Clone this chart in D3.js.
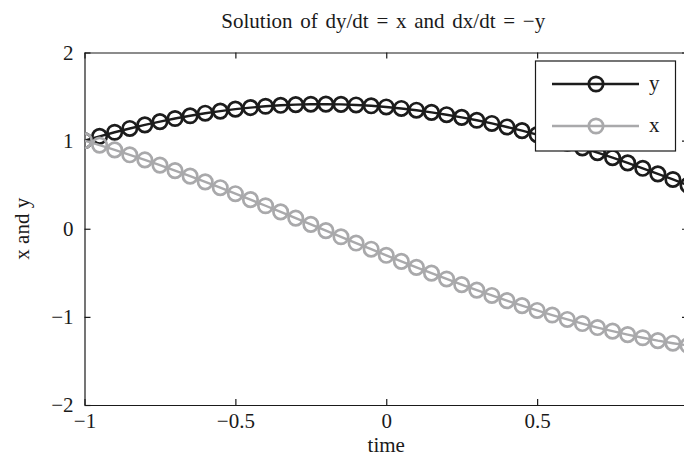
<!DOCTYPE html>
<html>
<head>
<meta charset="utf-8">
<script src="https://cdn.jsdelivr.net/npm/d3@7/dist/d3.min.js"></script>
<style>
html,body{margin:0;padding:0;background:#fff;}
svg text{font-family:"Liberation Serif","Times New Roman",serif;fill:#1a1a1a;}
</style>
</head>
<body>
<svg id="chart" width="684" height="461"></svg>
<script>
// ---- data ----
const time = [-1.00,-0.95,-0.90,-0.85,-0.80,-0.75,-0.70,-0.65,-0.60,-0.55,-0.50,-0.45,-0.40,-0.35,-0.30,-0.25,-0.20,-0.15,-0.10,-0.05,
  0.00,0.05,0.10,0.15,0.20,0.25,0.30,0.35,0.40,0.45,0.50,0.55,0.60,0.65,0.70,0.75,0.80,0.85,0.90,0.95,1.00];
const ySeries = [1.000,1.049,1.095,1.138,1.179,1.216,1.251,1.282,1.311,1.335,1.357,1.375,1.390,1.401,1.409,1.413,1.414,1.411,1.405,1.395,
  1.382,1.365,1.345,1.321,1.294,1.264,1.231,1.195,1.155,1.113,1.068,1.021,0.970,0.918,0.863,0.806,0.747,0.686,0.623,0.559,0.493];
const xSeries = [1.000,0.949,0.895,0.839,0.781,0.722,0.660,0.597,0.532,0.466,0.398,0.330,0.261,0.191,0.121,0.050,-0.021,-0.091,-0.162,-0.232,
  -0.301,-0.370,-0.438,-0.504,-0.570,-0.634,-0.696,-0.757,-0.816,-0.872,-0.927,-0.979,-1.029,-1.076,-1.121,-1.162,-1.201,-1.237,-1.270,-1.299,-1.325];
const xTicks = [-1, -0.5, 0, 0.5];
const yTicks = [-2, -1, 0, 1, 2];
const seriesNames = ["y", "x"];
const titleText = "Solution of dy/dt = x and dx/dt = \u2212y";
const xLabel = "time";
const yLabel = "x and y";

// ---- layout ----
const svg = d3.select("#chart");
const L = 84.5, R = 688, T = 52.5, B = 405;
const FS = 21;
const xs = d3.scaleLinear().domain([-1, 1]).range([L, R]);
const ys = d3.scaleLinear().domain([-2, 2]).range([B, T]);
const colors = {y: "#1c1c1c", x: "#a9a9ab"};
const fmt = v => d3.format("")(v).replace("-", "\u2212");

svg.append("defs").append("clipPath").attr("id", "clip")
  .append("rect").attr("x", L).attr("y", T).attr("width", R - L).attr("height", B - T);

const axisStyle = g => {
  g.selectAll("path.domain").attr("stroke", "#1a1a1a").attr("stroke-width", 1.2);
  g.selectAll(".tick line").attr("stroke", "#1a1a1a").attr("stroke-width", 1.2);
  g.selectAll(".tick text").attr("font-size", FS).attr("fill", "#1a1a1a")
    .style("font-family", '"Liberation Serif","Times New Roman",serif');
};

// bottom
svg.append("g").attr("transform", `translate(0,${B})`)
  .call(d3.axisBottom(xs).tickValues(xTicks).tickSizeInner(-6).tickSizeOuter(0).tickPadding(8).tickFormat(fmt))
  .call(axisStyle);
// top
svg.append("g").attr("transform", `translate(0,${T})`)
  .call(d3.axisTop(xs).tickValues(xTicks).tickSizeInner(-6).tickSizeOuter(0).tickFormat(""))
  .call(axisStyle);
// left
svg.append("g").attr("transform", `translate(${L},0)`)
  .call(d3.axisLeft(ys).tickValues(yTicks).tickSizeInner(-6).tickSizeOuter(0).tickPadding(11).tickFormat(fmt))
  .call(axisStyle);
// right
svg.append("g").attr("transform", `translate(${R},0)`)
  .call(d3.axisRight(ys).tickValues(yTicks).tickSizeInner(-6).tickSizeOuter(0).tickFormat(""))
  .call(axisStyle);

// series
const plot = svg.append("g").attr("clip-path", "url(#clip)");
const seriesData = {y: ySeries, x: xSeries};
seriesNames.forEach(name => {
  const pts = time.map((t, i) => [t, seriesData[name][i]]);
  plot.append("path").datum(pts)
    .attr("fill", "none").attr("stroke", colors[name]).attr("stroke-width", 2.4)
    .attr("d", d3.line().x(d => xs(d[0])).y(d => ys(d[1])));
  plot.selectAll(null).data(pts).enter().append("circle")
    .attr("cx", d => xs(d[0])).attr("cy", d => ys(d[1])).attr("r", 7.2)
    .attr("fill", "none").attr("stroke", colors[name]).attr("stroke-width", 2.7);
});

// legend
const lg = svg.append("g");
lg.append("rect").attr("x", 535.5).attr("y", 61).attr("width", 140).attr("height", 90)
  .attr("fill", "#fff").attr("stroke", "#1a1a1a").attr("stroke-width", 1.2);
seriesNames.forEach((name, i) => {
  const yy = 84 + i * 42;
  lg.append("line").attr("x1", 552).attr("x2", 639).attr("y1", yy).attr("y2", yy)
    .attr("stroke", colors[name]).attr("stroke-width", 2.4);
  lg.append("circle").attr("cx", 596).attr("cy", yy).attr("r", 7.2)
    .attr("fill", "none").attr("stroke", colors[name]).attr("stroke-width", 2.7);
  lg.append("text").attr("x", 649).attr("y", yy + 6).attr("font-size", FS).text(name);
});

// labels
svg.append("text").attr("x", (L + R) / 2 - 3).attr("y", 28).attr("text-anchor", "middle")
  .attr("font-size", FS).attr("word-spacing", 2.5).text(titleText);
svg.append("text").attr("x", (L + R) / 2).attr("y", 452).attr("text-anchor", "middle")
  .attr("font-size", FS).text(xLabel);
svg.append("text").attr("transform", `translate(29,${(T + B) / 2}) rotate(-90)`)
  .attr("text-anchor", "middle").attr("font-size", FS).text(yLabel);
</script>
</body>
</html>
